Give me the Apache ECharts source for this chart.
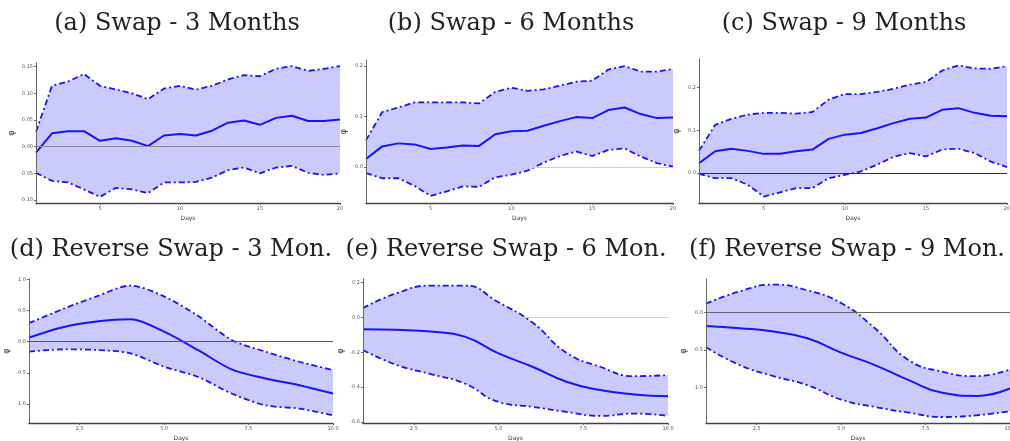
<!DOCTYPE html>
<html>
<head>
<meta charset="utf-8">
<script src="https://cdn.jsdelivr.net/npm/echarts@6/dist/echarts.min.js"></script>
<style>
html, body { margin: 0; padding: 0; background: #fff; }
#chart { width: 1010px; height: 441px; }
</style>
</head>
<body>
<div id="chart"></div>
<script>
// days on the x axis
const days20 = [1, 2, 3, 4, 5, 6, 7, 8, 9, 10, 11, 12, 13, 14, 15, 16, 17, 18, 19, 20];
const days10 = [1, 2, 3, 4, 5, 6, 7, 8, 9, 10];

// (a) Swap - 3 Months
const swap3Mean = [-0.011, 0.025, 0.029, 0.029, 0.011, 0.016, 0.011, 0.001, 0.021, 0.024, 0.021, 0.030, 0.045, 0.049, 0.041, 0.054, 0.058, 0.048, 0.048, 0.051];
const swap3Upper = [0.028, 0.114, 0.122, 0.136, 0.114, 0.107, 0.100, 0.089, 0.109, 0.114, 0.107, 0.114, 0.126, 0.134, 0.132, 0.146, 0.151, 0.142, 0.146, 0.151];
const swap3Lower = [-0.049, -0.064, -0.067, -0.080, -0.094, -0.077, -0.080, -0.087, -0.067, -0.067, -0.066, -0.058, -0.044, -0.039, -0.050, -0.039, -0.036, -0.049, -0.053, -0.050];

// (b) Swap - 6 Months
const swap6Mean = [0.016, 0.041, 0.047, 0.045, 0.036, 0.039, 0.043, 0.042, 0.065, 0.071, 0.072, 0.082, 0.091, 0.099, 0.097, 0.113, 0.118, 0.105, 0.097, 0.098];
const swap6Upper = [0.053, 0.109, 0.118, 0.128, 0.128, 0.128, 0.128, 0.126, 0.149, 0.157, 0.151, 0.154, 0.161, 0.169, 0.171, 0.193, 0.200, 0.189, 0.189, 0.194];
const swap6Lower = [-0.012, -0.022, -0.022, -0.037, -0.057, -0.048, -0.038, -0.039, -0.020, -0.015, -0.007, 0.009, 0.022, 0.031, 0.022, 0.034, 0.037, 0.021, 0.008, 0.001];

// (c) Swap - 9 Months
const swap9Mean = [0.023, 0.051, 0.057, 0.052, 0.045, 0.045, 0.051, 0.055, 0.080, 0.090, 0.094, 0.105, 0.117, 0.127, 0.130, 0.148, 0.152, 0.141, 0.134, 0.133];
const swap9Upper = [0.052, 0.113, 0.127, 0.137, 0.141, 0.141, 0.139, 0.143, 0.172, 0.185, 0.185, 0.190, 0.197, 0.207, 0.213, 0.240, 0.252, 0.245, 0.244, 0.250];
const swap9Lower = [-0.002, -0.012, -0.012, -0.027, -0.055, -0.045, -0.035, -0.035, -0.012, -0.004, 0.004, 0.020, 0.038, 0.047, 0.039, 0.055, 0.057, 0.047, 0.027, 0.014];

// (d) Reverse Swap - 3 Mon.
const rev3Mean = [0.065, 0.231, 0.323, 0.360, 0.161, -0.134, -0.446, -0.591, -0.699, -0.833];
const rev3Upper = [0.296, 0.522, 0.726, 0.898, 0.726, 0.414, 0.027, -0.161, -0.323, -0.457];
const rev3Lower = [-0.161, -0.124, -0.134, -0.188, -0.403, -0.565, -0.833, -1.022, -1.075, -1.183];

// (e) Reverse Swap - 6 Mon.
const rev6Mean = [-0.067, -0.071, -0.081, -0.110, -0.206, -0.283, -0.369, -0.417, -0.442, -0.452];
const rev6Upper = [0.054, 0.140, 0.183, 0.183, 0.087, -0.029, -0.202, -0.283, -0.337, -0.331];
const rev6Lower = [-0.187, -0.273, -0.325, -0.379, -0.485, -0.513, -0.542, -0.565, -0.552, -0.565];

// (f) Reverse Swap - 9 Mon.
const rev9Mean = [-0.179, -0.210, -0.254, -0.344, -0.536, -0.701, -0.902, -1.071, -1.112, -1.013];
const rev9Upper = [0.116, 0.281, 0.371, 0.295, 0.125, -0.210, -0.634, -0.790, -0.848, -0.759];
const rev9Lower = [-0.464, -0.701, -0.848, -0.969, -1.161, -1.259, -1.335, -1.393, -1.371, -1.317];

// tick values + labels
const xTicks20 = [5, 10, 15, 20];
const xLabels20 = ['5', '10', '15', '20'];
const xTicks10 = [2.5, 5, 7.5, 10];
const xLabels10 = ['2.5', '5.0', '7.5', '10.0'];
const yTicksA = [-0.10, -0.05, 0, 0.05, 0.10, 0.15];
const yLabelsA = ['-0.10', '-0.05', '0.00', '0.05', '0.10', '0.15'];
const yTicksB = [0, 0.1, 0.2];
const yLabelsB = ['0.0', '0.1', '0.2'];
const yTicksC = [0, 0.1, 0.2];
const yLabelsC = ['0.0', '0.1', '0.2'];
const yTicksD = [-1, -0.5, 0, 0.5, 1];
const yLabelsD = ['-1.0', '-0.5', '0.0', '0.5', '1.0'];
const yTicksE = [-0.6, -0.4, -0.2, 0, 0.2];
const yLabelsE = ['-0.6', '-0.4', '-0.2', '0.0', '0.2'];
const yTicksF = [-1, -0.5, 0];
const yLabelsF = ['-1.0', '-0.5', '0.0'];

const titles = ['(a) Swap - 3 Months', '(b) Swap - 6 Months', '(c) Swap - 9 Months',
  '(d) Reverse Swap - 3 Mon.', '(e) Reverse Swap - 6 Mon.', '(f) Reverse Swap - 9 Mon.'];

const panels = [
  { days: days20, mean: swap3Mean, upper: swap3Upper, lower: swap3Lower, xt: xTicks20, xl: xLabels20, yt: yTicksA, yl: yLabelsA,
    grid: { left: 36, top: 63, width: 304, height: 140 }, yMin: -0.1055, yMax: 0.1568, zero: '#8c8c8c', smooth: false, tx: 177, ty: 24 },
  { days: days20, mean: swap6Mean, upper: swap6Upper, lower: swap6Lower, xt: xTicks20, xl: xLabels20, yt: yTicksB, yl: yLabelsB,
    grid: { left: 366, top: 60, width: 307, height: 143 }, yMin: -0.071, yMax: 0.212, zero: '#d0d0d0', smooth: false, tx: 511, ty: 24 },
  { days: days20, mean: swap9Mean, upper: swap9Upper, lower: swap9Lower, xt: xTicks20, xl: xLabels20, yt: yTicksC, yl: yLabelsC,
    grid: { left: 699, top: 59, width: 308, height: 144 }, yMin: -0.070, yMax: 0.267, zero: '#333333', smooth: false, tx: 844, ty: 24 },
  { days: days10, mean: rev3Mean, upper: rev3Upper, lower: rev3Lower, xt: xTicks10, xl: xLabels10, yt: yTicksD, yl: yLabelsD,
    grid: { left: 29, top: 279, width: 304, height: 144 }, yMin: -1.306, yMax: 1.005, zero: '#555555', smooth: 0.3, tx: 171, ty: 250 },
  { days: days10, mean: rev6Mean, upper: rev6Upper, lower: rev6Lower, xt: xTicks10, xl: xLabels10, yt: yTicksE, yl: yLabelsE,
    grid: { left: 363, top: 279, width: 305, height: 144 }, yMin: -0.606, yMax: 0.221, zero: '#d0d0d0', smooth: 0.5, tx: 506, ty: 250 },
  { days: days10, mean: rev9Mean, upper: rev9Upper, lower: rev9Lower, xt: xTicks10, xl: xLabels10, yt: yTicksF, yl: yLabelsF,
    grid: { left: 706, top: 279, width: 304, height: 144 }, yMin: -1.473, yMax: 0.446, zero: '#666666', smooth: 0.5, tx: 847, ty: 250 },
];

const BLUE = '#1414ff';
const FILL = '#cacafc';
const zip = (xs, ys) => xs.map((x, i) => [x, ys[i]]);
const labelOf = (ticks, labels) => (v) => {
  const k = ticks.findIndex((t) => Math.abs(t - v) < 1e-9);
  return k >= 0 ? labels[k] : '';
};

const grids = [];
const xAxes = [];
const yAxes = [];
const series = [];
const graphics = [];

panels.forEach((p, i) => {
  grids.push({ ...p.grid, containLabel: false, outerBoundsMode: 'none' });
  xAxes.push({
    type: 'value', gridIndex: i, min: p.days[0], max: p.days[p.days.length - 1], z: 6,
    name: 'Days', nameLocation: 'middle', nameGap: 12,
    nameTextStyle: { fontSize: 6, color: '#333', fontFamily: 'DejaVu Sans' },
    axisLine: { show: true, onZero: false, lineStyle: { color: '#444', width: 1.3 } },
    axisTick: { show: true, length: 2, customValues: p.xt, lineStyle: { color: '#666' } },
    axisLabel: { customValues: p.xt, formatter: labelOf(p.xt, p.xl), fontSize: 5, color: '#555', margin: 3, fontFamily: 'DejaVu Sans' },
    splitLine: { show: false },
  });
  yAxes.push({
    type: 'value', gridIndex: i, min: p.yMin, max: p.yMax, z: 6,
    name: 'φ', nameLocation: 'middle', nameGap: 18, nameRotate: 90,
    nameTextStyle: { fontSize: 8, color: '#333', fontFamily: 'DejaVu Sans' },
    axisLine: { show: true, onZero: false, lineStyle: { color: '#666', width: 1 } },
    axisTick: { show: true, length: 2, customValues: p.yt, lineStyle: { color: '#666' } },
    axisLabel: { customValues: p.yt, formatter: labelOf(p.yt, p.yl), fontSize: 5, color: '#555', margin: 3, fontFamily: 'DejaVu Sans' },
    splitLine: { show: false },
  });

  const common = { type: 'line', xAxisIndex: i, yAxisIndex: i, symbol: 'none', smooth: p.smooth, silent: true };
  // band: fill under upper, then blank out under lower
  series.push({ ...common, z: 1, data: zip(p.days, p.upper),
    lineStyle: { opacity: 0 }, areaStyle: { color: FILL, opacity: 1, origin: 'start' } });
  series.push({ ...common, z: 1, data: zip(p.days, p.lower),
    lineStyle: { opacity: 0 }, areaStyle: { color: '#ffffff', opacity: 1, origin: 'start' } });
  // dashed bounds, mean + zero line
  series.push({ ...common, z: 3, data: zip(p.days, p.upper),
    lineStyle: { color: BLUE, width: 1.8, type: [6, 3, 2, 3] } });
  series.push({ ...common, z: 3, data: zip(p.days, p.lower),
    lineStyle: { color: BLUE, width: 1.8, type: [6, 3, 2, 3] } });
  series.push({ ...common, z: 4, data: zip(p.days, p.mean),
    lineStyle: { color: BLUE, width: 2 },
    markLine: { silent: true, symbol: 'none', label: { show: false },
      lineStyle: { color: p.zero, width: 1.2, type: 'solid' }, data: [{ yAxis: 0 }] } });

  graphics.push({
    type: 'text', x: p.tx, y: p.ty,
    style: { text: titles[i], fill: '#222', font: '24px "DejaVu Serif"', textAlign: 'center', textVerticalAlign: 'middle' },
  });
});

const chart = echarts.init(document.getElementById('chart'));
chart.setOption({
  animation: false,
  backgroundColor: '#fff',
  grid: grids,
  xAxis: xAxes,
  yAxis: yAxes,
  series,
  graphic: graphics,
});
</script>
</body>
</html>
